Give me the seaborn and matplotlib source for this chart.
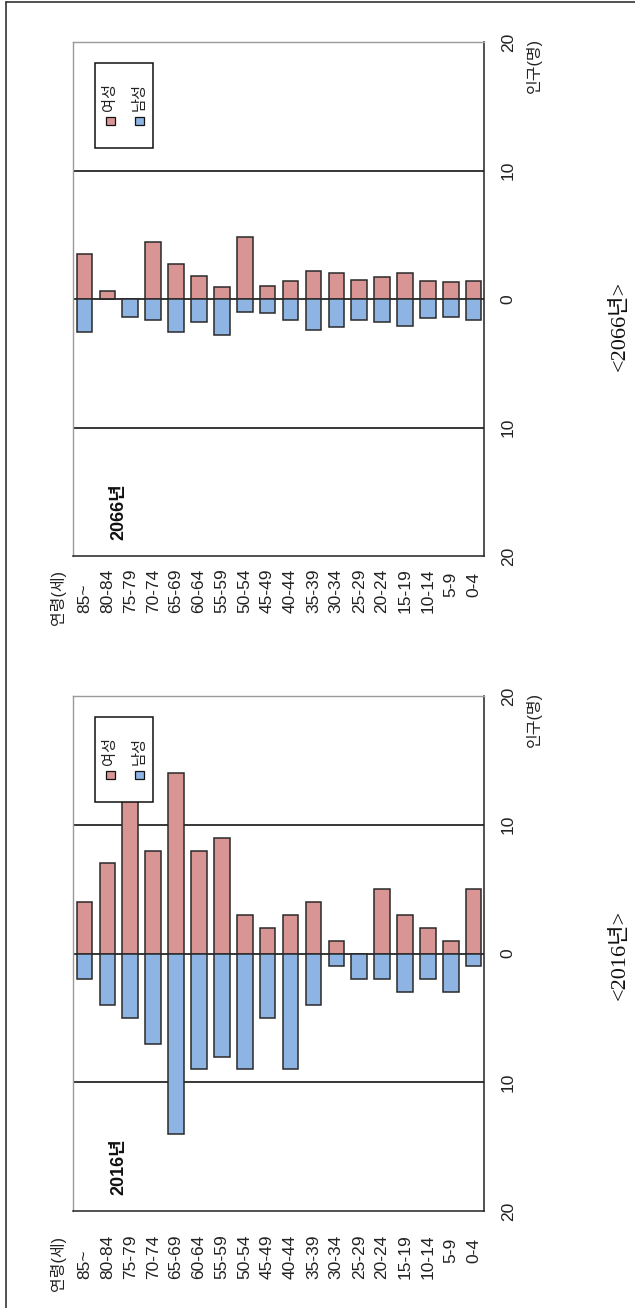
import numpy as np
import pandas as pd
import matplotlib
matplotlib.use('Agg')
import matplotlib.pyplot as plt
import seaborn as sns
from matplotlib.transforms import Affine2D, blended_transform_factory
from matplotlib.patches import Rectangle
from matplotlib.lines import Line2D

# ---------------- data ----------------
ages = ['85~', '80-84', '75-79', '70-74', '65-69', '60-64', '55-59', '50-54', '45-49',
        '40-44', '35-39', '30-34', '25-29', '20-24', '15-19', '10-14', '5-9', '0-4']
female_2016 = [4, 7, 12, 8, 14, 8, 9, 3, 2, 3, 4, 1, 0, 5, 3, 2, 1, 5]
male_2016 = [2, 4, 5, 7, 14, 9, 8, 9, 5, 9, 4, 1, 2, 2, 3, 2, 3, 1]
female_2066 = [3.5, 0.6, 0, 4.4, 2.7, 1.8, 0.9, 4.8, 1.0, 1.4, 2.2, 2.0, 1.5, 1.7, 2.0, 1.4, 1.3, 1.4]
male_2066 = [2.6, 0, 1.4, 1.6, 2.6, 1.8, 2.8, 1.0, 1.1, 1.6, 2.4, 2.2, 1.6, 1.8, 2.1, 1.5, 1.4, 1.6]
pop_ticks = [20, 10, 0, -10, -20]
pop_tick_labels = ['20', '10', '0', '10', '20']
legend_labels = ['여성', '남성']
age_axis_label = '연령(세)'
pop_axis_label = '인구(명)'

# ---------------- style ----------------
RED = '#D99594'
BLUE = '#8DB4E2'
EDGE = '#2a2a2a'
sns.set_theme(style='white')
plt.rcParams['font.family'] = ['Liberation Sans', 'Noto Sans CJK KR']
SERIF = ['Liberation Serif', 'Noto Sans CJK KR']

W, H = 635, 1308
fig = plt.figure(figsize=(W / 100, H / 100), dpi=100)
fig.patch.set_facecolor('white')
# pixel coordinates (y downward) -> figure
PX = Affine2D().scale(1 / W, -1 / H).translate(0, 1) + fig.transFigure

panels = [
    dict(year='2066', female=female_2066, male=male_2066, left=73, right=484, top=42, bottom=556,
         age_start=613, caption_y=326),
    dict(year='2016', female=female_2016, male=male_2016, left=73, right=484, top=696, bottom=1211,
         age_start=1279, caption_y=955),
]

short_labels = {'5-9', '0-4'}

for p in panels:
    ax = fig.add_axes([p['left'] / W, 1 - p['bottom'] / H,
                       (p['right'] - p['left']) / W, (p['bottom'] - p['top']) / H])
    df = pd.DataFrame({'age': ages, 'female': p['female'],
                       'male': [-v for v in p['male']]})
    sns.barplot(data=df, x='age', y='female', order=ages, color=RED, saturation=1,
                width=0.68, edgecolor=EDGE, linewidth=1.1, errorbar=None, ax=ax, zorder=2)
    sns.barplot(data=df, x='age', y='male', order=ages, color=BLUE, saturation=1,
                width=0.68, edgecolor=EDGE, linewidth=1.1, errorbar=None, ax=ax, zorder=2)
    ax.set_xlim(-0.5, 17.45)
    ax.set_ylim(-20, 20)
    for yv in (-10, 0, 10):
        ax.axhline(yv, color='#151515', lw=1.2, zorder=1)
    ax.set_xlabel('')
    ax.set_ylabel('')
    ax.tick_params(axis='x', bottom=False, labelbottom=False)
    ax.yaxis.tick_right()
    ax.set_yticks(pop_ticks)
    ax.set_yticklabels(pop_tick_labels, rotation=90, va='center')
    ax.tick_params(axis='y', length=0, pad=12, labelsize=12.5, labelcolor='#222')
    for s in ('left', 'top'):
        ax.spines[s].set_color('#9a9a9a')
        ax.spines[s].set_linewidth(1.0)
    for s in ('right', 'bottom'):
        ax.spines[s].set_color('#222')
        ax.spines[s].set_linewidth(1.1)

    # age labels (rotated)
    bt = blended_transform_factory(ax.transData, PX)
    for i, lab in enumerate(ages):
        y0 = p['age_start'] - (16 if lab in short_labels else 0)
        ax.text(i, y0, lab, transform=bt, rotation=90, ha='center', va='bottom',
                fontsize=12.5, color='#222', clip_on=False)
    fig.text(58, p['age_start'] + 12, age_axis_label, transform=PX, rotation=90,
             ha='center', va='bottom', fontsize=11.5, color='#222')
    # population axis label
    fig.text(534, p['top'] + 51, pop_axis_label, transform=PX, rotation=90,
             ha='center', va='bottom', fontsize=11.5, color='#222')
    # year inside the panel
    fig.text(119, p['bottom'] - 16, p['year'] + '년', transform=PX, rotation=90,
             ha='center', va='bottom', fontsize=13, fontweight='bold', color='#111')
    # legend (rotated, drawn manually)
    t = p['top']
    ax.add_patch(Rectangle((95, t + 21), 58, 85, transform=PX, facecolor='white',
                           edgecolor='#111', lw=1.1, zorder=10, clip_on=False))
    for cx, col, lab in ((110.5, RED, legend_labels[0]), (139.5, BLUE, legend_labels[1])):
        ax.add_patch(Rectangle((cx - 4.5, t + 75), 9, 8, transform=PX, facecolor=col,
                               edgecolor='#111', lw=0.9, zorder=11, clip_on=False))
        ax.text(cx, t + 69, lab, transform=PX, rotation=90, ha='center', va='bottom',
                fontsize=11, color='#222', zorder=11)
    # caption
    fig.text(620, p['caption_y'], '<' + p['year'] + '년>', transform=PX, rotation=90,
             ha='center', va='center', fontsize=16, family=SERIF, color='#111')

# outer frame fragments (top and left edges)
fig.add_artist(Line2D([6, 635], [2, 2], transform=PX, color='#333', lw=1.2))
fig.add_artist(Line2D([6, 6], [2, 1308], transform=PX, color='#333', lw=1.2))

fig.savefig('out.png', dpi=100, facecolor='white')
